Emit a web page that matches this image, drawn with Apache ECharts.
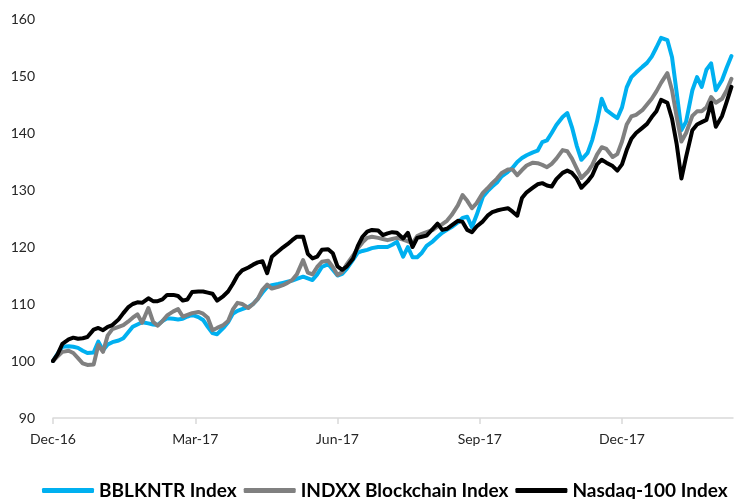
<!DOCTYPE html>
<html>
<head>
<meta charset="utf-8">
<script src="https://cdn.jsdelivr.net/npm/echarts@6/dist/echarts.min.js"></script>
<style>
  html, body { margin: 0; padding: 0; background: #fff; }
  #chart { width: 734px; height: 499px; }
</style>
</head>
<body>
<div id="chart"></div>
<script>
// trading-day offsets from 30 Dec 2016
const days = [0,3,6,10,13,16,19,22,26,29,32,35,38,42,45,48,51,54,57,61,64,67,70,73,77,80,83,86,89,93,96,99,102,105,109,112,115,118,121,125,128,131,134,137,140,144,147,150,153,156,160,163,166,169,172,176,179,182,185,188,192,195,198,201,204,208,211,214,217,220,224,227,230,233,236,239,243,246,249,252,255,259,262,265,268,271,275,278,281,284,287,291,294,297,300,303,307,310,313,316,319,322,326,329,332,335,338,342,345,348,351,354,358,361,364,367,370,373,377,380,383,386,389,393,396,399,402,405,409,412,415,418,421,424,428,431,434]

const bblkntr = [
  100, 101.3, 102.5, 102.6, 102.5, 102.3, 101.8, 101.4, 101.5, 103.4,
  101.9, 102.9, 103.3, 103.6, 104, 105, 106, 106.4, 106.8, 106.6,
  106.4, 106.3, 107, 107.5, 107.4, 107.3, 107.4, 107.8, 108.1, 107.7,
  107.2, 106, 104.9, 104.7, 105.8, 106.8, 108.3, 108.8, 109.1, 109.5,
  110, 110.9, 112, 113, 113.3, 113.5, 113.7, 113.9, 114.1, 114.4,
  114.8, 114.5, 114.2, 115.2, 116.5, 117, 116, 115, 115.3, 116.2,
  117.8, 119, 119.3, 119.5, 119.8, 120, 120, 120, 120.4, 120.9,
  118.3, 120, 118.2, 118.2, 119, 120.2, 121, 121.8, 122.5, 123,
  123.5, 124.3, 125.1, 125.3, 123.5, 125.6, 128.8, 129.8, 130.6, 131.3,
  132.4, 133.2, 133.9, 134.9, 135.6, 136.1, 136.6, 136.9, 138.4, 138.7,
  140, 141.4, 142.8, 143.5, 141, 137.8, 135.3, 136.5, 138.8, 142,
  146, 144, 143.2, 142.6, 144.5, 148, 149.8, 150.6, 151.6, 152.3,
  153.4, 155, 156.7, 156.3, 153.3, 147, 140.5, 142, 147.5, 149.8,
  148.1, 151.1, 152.2, 147.5, 149.3, 151.5, 153.5
]

const indxx = [
  100, 100.8, 101.6, 101.8, 101.4, 100.5, 99.6, 99.3, 99.4, 102.8,
  101.6, 104.5, 105.6, 106, 106.3, 106.9, 107.6, 108.2, 106.7, 109.3,
  106.9, 106.2, 107, 108, 108.7, 109.1, 107.8, 108.1, 108.4, 108.6,
  108.3, 107.6, 105.4, 105.8, 106.3, 107, 109, 110.2, 110, 109.3,
  110, 110.9, 112.5, 113.4, 112.7, 113, 113.3, 113.7, 114.2, 115.2,
  117.7, 115.5, 115.2, 116.5, 117.4, 117.6, 116.5, 115.1, 115.6, 117,
  118.5, 119.8, 120.8, 121.6, 121.8, 121.6, 121.4, 121.2, 121.4, 121.6,
  121.3, 121, 120.7, 121.9, 122.3, 122.6, 123, 123.6, 124, 124.6,
  125.6, 127.3, 129.1, 128.1, 126.8, 127.7, 129.5, 130.3, 131.2, 132,
  133, 133.6, 133.6, 132.6, 133.5, 134.3, 134.8, 134.7, 134.4, 134,
  134.6, 135.5, 137, 136.8, 135.5, 133.8, 132.1, 133.2, 134.4, 136.2,
  137.5, 137.2, 135.8, 136.3, 138.5, 141.5, 142.9, 143.2, 144, 145,
  146, 147.3, 148.8, 150.5, 147.5, 142.8, 138.5, 140, 143, 143.8,
  143.8, 144.5, 146.3, 145.3, 146, 147.5, 149.5
]

const nasdaq = [
  100, 101.2, 103, 103.8, 104.1, 103.9, 104, 104.2, 105.5, 105.8,
  105.4, 106, 106.3, 107.3, 108.4, 109.4, 110, 110.3, 110.2, 111,
  110.5, 110.5, 110.8, 111.6, 111.6, 111.4, 110.6, 110.8, 112.1, 112.2,
  112.2, 112, 111.8, 110.6, 111.4, 112.2, 113.5, 115, 115.9, 116.4,
  116.9, 117.3, 117.5, 115.4, 118.3, 119.2, 119.9, 120.5, 121.2, 121.8,
  121.8, 118.8, 118, 118.3, 119.5, 119.6, 118.9, 116.6, 116, 116.6,
  118, 120.2, 121.8, 122.7, 123, 122.9, 122.1, 122.4, 122.6, 122.5,
  121.5, 122.5, 120, 121.6, 121.8, 122, 123.2, 124.1, 123, 123.2,
  123.8, 124.6, 124.4, 123, 122.6, 123.6, 124.5, 125.5, 126.1, 126.4,
  126.6, 126.8, 126.2, 125.5, 128.6, 129.6, 130.4, 131, 131.2, 130.8,
  130.6, 131.9, 133, 133.4, 133, 132, 130.4, 131.5, 132.6, 134.5,
  135.3, 134.8, 134.2, 133.4, 134.5, 137, 139, 140, 140.9, 141.6,
  142.8, 143.8, 145.8, 145.3, 142.5, 138, 132, 135.8, 140.5, 141.5,
  141.9, 142.3, 145.3, 141.1, 143, 145.5, 148.1
]

const tickDays = [0, 91, 182, 273, 364]
const tickLabels = ['Dec-16', 'Mar-17', 'Jun-17', 'Sep-17', 'Dec-17']
const seriesNames = ['BBLKNTR Index', 'INDXX Blockchain Index', 'Nasdaq-100 Index']
const seriesColors = ['#00b0f0', '#808080', '#000000']

const font = 'Lato, "Open Sans", sans-serif'

function lineSeries(name, values, color) {
  return {
    name,
    type: 'line',
    data: days.map((d, i) => [d, values[i]]),
    showSymbol: false,
    symbol: 'none',
    color,
    lineStyle: { width: 4, color, join: 'round', cap: 'round' },
  }
}

const chart = echarts.init(document.getElementById('chart'))
chart.setOption({
  animation: false,
  backgroundColor: '#ffffff',
  grid: { left: 53, right: 1, top: 19, bottom: 81 },
  legend: {
    data: seriesNames,
    left: 37,
    top: 476,
    width: 900,
    icon: 'roundRect',
    itemWidth: 52,
    itemHeight: 5,
    itemGap: 7,
    textStyle: { fontFamily: font, fontWeight: 'bold', fontSize: 19, color: '#000' },
  },
  xAxis: {
    type: 'value',
    min: 0,
    max: 435,
    splitLine: { show: false },
    axisLine: { show: true, lineStyle: { color: '#d9d9d9', width: 1.5 } },
    axisTick: {
      show: true,
      customValues: tickDays,
      length: 6,
      lineStyle: { color: '#d9d9d9', width: 1.5 },
    },
    axisLabel: {
      customValues: tickDays,
      formatter: (v) => tickLabels[tickDays.indexOf(v)] || '',
      margin: 14,
      fontFamily: font,
      fontSize: 14,
      color: '#262626',
    },
  },
  yAxis: {
    type: 'value',
    min: 90,
    max: 160,
    interval: 10,
    splitLine: { show: false },
    axisLine: { show: false },
    axisTick: { show: false },
    axisLabel: { margin: 18, fontFamily: font, fontSize: 14, color: '#262626' },
  },
  series: [
    lineSeries(seriesNames[0], bblkntr, seriesColors[0]),
    lineSeries(seriesNames[1], indxx, seriesColors[1]),
    lineSeries(seriesNames[2], nasdaq, seriesColors[2]),
  ],
})
</script>
</body>
</html>
